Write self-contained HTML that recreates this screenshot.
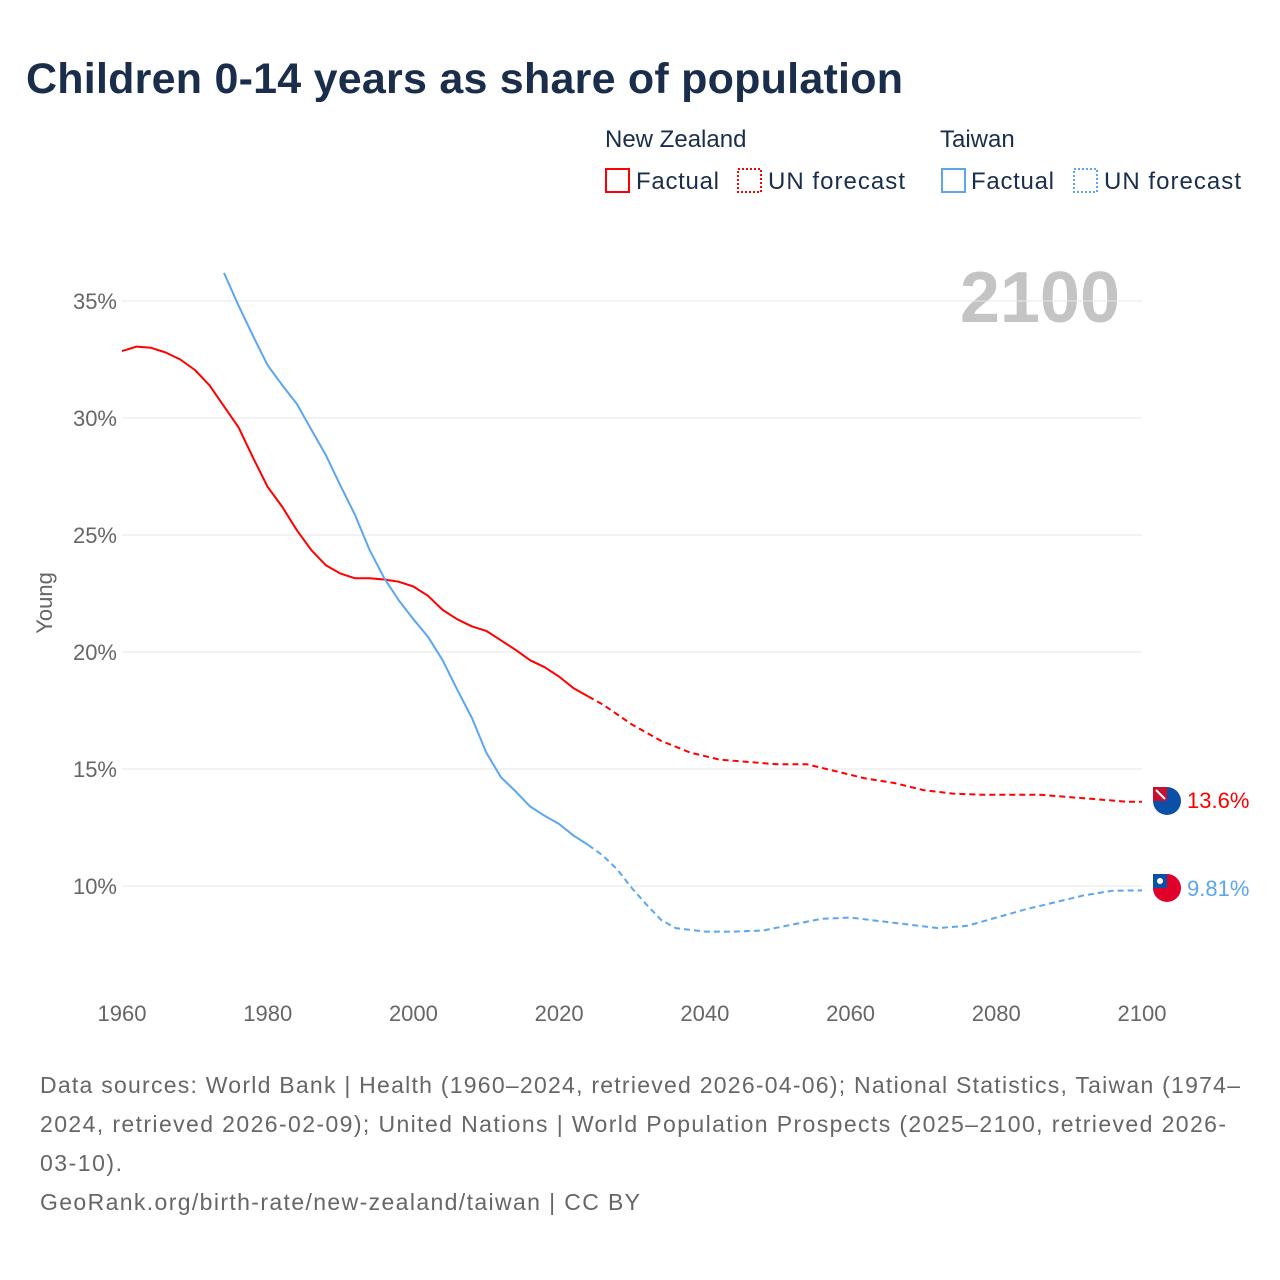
<!DOCTYPE html>
<html><head><meta charset="utf-8">
<style>
html,body{margin:0;padding:0;background:#fff;}
body{width:1280px;height:1280px;position:relative;font-family:"Liberation Sans",sans-serif;overflow:hidden;}
svg{position:absolute;left:0;top:0;}
</style></head>
<body>
<svg id="chart" width="1280" height="1280">
<text x="26" y="93" font-size="43" font-weight="bold" fill="#1a2e4c" textLength="877">Children 0-14 years as share of population</text>
<g font-size="24" fill="#1a2e4c">
<text x="605" y="147">New Zealand</text>
<text x="940" y="147">Taiwan</text>
<g><rect x="606" y="169" width="23" height="23" fill="none" stroke="#f00" stroke-width="2"/><text x="636" y="189" textLength="83">Factual</text></g>
<g><rect x="738" y="169" width="23" height="23" fill="none" stroke="#f00" stroke-width="2" stroke-dasharray="2,2"/><text x="768" y="189" textLength="137">UN forecast</text></g>
<g><rect x="942" y="169" width="23" height="23" fill="none" stroke="#5ca6ee" stroke-width="2"/><text x="971" y="189" textLength="83">Factual</text></g>
<g><rect x="1074" y="169" width="23" height="23" fill="none" stroke="#5ca6ee" stroke-width="2" stroke-dasharray="2,2"/><text x="1104" y="189" textLength="137">UN forecast</text></g>
</g>
<text x="1120" y="322" text-anchor="end" font-size="72" font-weight="bold" fill="#c4c4c4">2100</text>
<text transform="translate(52,603) rotate(-90)" text-anchor="middle" font-size="22" fill="#666">Young</text>
<g id="grid"></g><g id="ylabels"></g><g id="xlabels"></g><g id="series"></g>
<g>
<circle cx="1167" cy="801" r="14" fill="#0a4fa8"/><rect x="1153" y="787" width="14" height="14" fill="#c8102e"/><path d="M1156,790 L1165,799" stroke="#fff" stroke-width="2"/>
<text x="1187" y="808" font-size="22" fill="#f00">13.6%</text></g>
<g>
<circle cx="1167" cy="888" r="14" fill="#e0002a"/><rect x="1153" y="874" width="14" height="14" fill="#0a4fa8"/><circle cx="1160" cy="881" r="3" fill="#fff"/>
<text x="1187" y="896" font-size="22" fill="#5ca6ee">9.81%</text></g>
<g font-size="23" fill="#666">
<text x="40" y="1093" textLength="1200">Data sources: World Bank | Health (1960–2024, retrieved 2026-04-06); National Statistics, Taiwan (1974–</text>
<text x="40" y="1132" textLength="1186">2024, retrieved 2026-02-09); United Nations | World Population Prospects (2025–2100, retrieved 2026-</text>
<text x="40" y="1171" textLength="82">03-10).</text>
<text x="40" y="1210" textLength="600">GeoRank.org/birth-rate/new-zealand/taiwan | CC BY</text>
</g>
</svg>
<script>
const yTicks=[10,15,20,25,30,35];
const xTicks=[1960,1980,2000,2020,2040,2060,2080,2100];
const nzFactYears=[1960,1962,1964,1966,1968,1970,1972,1974,1976,1978,1980,1982,1984,1986,1988,1990,1992,1994,1996,1998,2000,2002,2004,2006,2008,2010,2012,2014,2016,2018,2020,2022,2024];
const nzFactVals=[32.86,33.05,33.0,32.8,32.5,32.05,31.4,30.5,29.6,28.3,27.05,26.2,25.2,24.35,23.7,23.35,23.15,23.15,23.1,23.0,22.8,22.4,21.8,21.4,21.1,20.9,20.5,20.1,19.65,19.35,18.95,18.45,18.1];
const nzFcYears=[2024,2026,2030,2034,2038,2042,2046,2050,2054,2058,2062,2066,2070,2074,2078,2082,2086,2090,2094,2098,2100];
const nzFcVals=[18.1,17.75,16.9,16.2,15.7,15.4,15.3,15.2,15.2,14.9,14.6,14.4,14.1,13.95,13.9,13.9,13.9,13.8,13.7,13.6,13.6];
const twFactYears=[1974,1976,1978,1980,1982,1984,1986,1988,1990,1992,1994,1996,1998,2000,2002,2004,2006,2008,2010,2012,2014,2016,2018,2020,2022,2024];
const twFactVals=[36.2,34.8,33.5,32.25,31.4,30.6,29.5,28.4,27.1,25.85,24.35,23.15,22.2,21.4,20.65,19.65,18.4,17.2,15.7,14.65,14.05,13.4,13.0,12.65,12.15,11.75];
const twFcYears=[2024,2026,2028,2030,2032,2034,2036,2040,2044,2048,2052,2056,2060,2064,2068,2072,2076,2080,2084,2088,2092,2096,2100];
const twFcVals=[11.75,11.3,10.7,9.9,9.2,8.55,8.2,8.05,8.05,8.1,8.35,8.6,8.65,8.5,8.35,8.2,8.3,8.65,9.0,9.3,9.6,9.8,9.81];
const NS='http://www.w3.org/2000/svg';
function xs(y){return 122+(y-1960)*(1020/140);}
function ys(v){return 886-(v-10)*23.4;}
function mk(t,a,p){const e=document.createElementNS(NS,t);for(const k in a)e.setAttribute(k,a[k]);document.getElementById(p).appendChild(e);return e;}
yTicks.forEach(v=>{
  const l=mk('line',{x1:122,x2:1142,y1:ys(v),y2:ys(v),stroke:'#e6e6e6','stroke-width':1},'grid');
  
  
  const t=mk('text',{x:117,y:ys(v)+8,'text-anchor':'end','font-size':22,fill:'#666'},'ylabels');
  t.textContent=v+'%';
  
  
});
xTicks.forEach(y=>{
  const t=mk('text',{x:xs(y),y:1021,'text-anchor':'middle','font-size':22,fill:'#666'},'xlabels');
  t.textContent=y;
  
  
});
function line(yrs,vals,col,dash,name){
  const d=yrs.map((y,i)=>(i?'L':'M')+xs(y).toFixed(1)+','+ys(vals[i]).toFixed(1)).join(' ');
  const p=mk('path',{d:d,fill:'none',stroke:col,'stroke-width':2,'stroke-linejoin':'round'},'series');
  if(dash)p.setAttribute('stroke-dasharray',dash);
  
  
}
line(nzFactYears,nzFactVals,'#f00',null,'nz-factual-line');
line(nzFcYears,nzFcVals,'#f00','6,4','nz-forecast-line');
line(twFactYears,twFactVals,'#5ca6ee',null,'tw-factual-line');
line(twFcYears,twFcVals,'#5ca6ee','6,4','tw-forecast-line');
</script>
</body></html>
